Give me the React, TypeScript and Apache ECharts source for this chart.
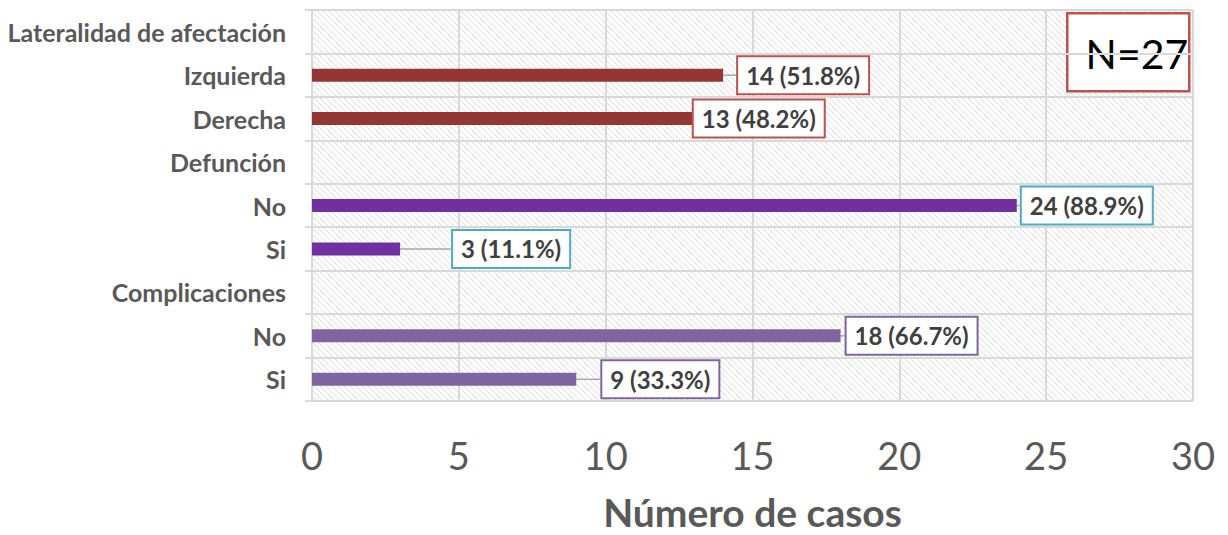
import React, { useEffect, useRef } from "react";
import * as echarts from "echarts";

const categories = [
  "Si",
  "No",
  "Complicaciones",
  "Si",
  "No",
  "Defunción",
  "Derecha",
  "Izquierda",
  "Lateralidad de afectación",
];
const values: (number | null)[] = [9, 18, null, 3, 24, null, 13, 14, null];
const percents: (string | null)[] = ["33.3%", "66.7%", null, "11.1%", "88.9%", null, "48.2%", "51.8%", null];
const barColors = ["#8064A2", "#8064A2", "#8064A2", "#7030A0", "#7030A0", "#7030A0", "#943634", "#943634", "#943634"];
const labelBorders = ["#8064A2", "#8064A2", "#8064A2", "#4BACC6", "#4BACC6", "#4BACC6", "#C0504D", "#C0504D", "#C0504D"];
const labelShift = [26, 6, 0, 53, 5, 0, 0, 15, 0];
const xTicks = [0, 5, 10, 15, 20, 25, 30];
const nLabel = "N=27";

function makeHatch(): string {
  const s = 6;
  const c = document.createElement("canvas");
  c.width = s;
  c.height = s;
  const ctx = c.getContext("2d")!;
  ctx.fillStyle = "#ffffff";
  ctx.fillRect(0, 0, s, s);
  ctx.strokeStyle = "#dcdcdc";
  ctx.lineWidth = 1;
  ctx.beginPath();
  ctx.moveTo(0, 0);
  ctx.lineTo(s, s);
  ctx.moveTo(-s / 2, s / 2);
  ctx.lineTo(s / 2, s * 1.5);
  ctx.moveTo(s / 2, -s / 2);
  ctx.lineTo(s * 1.5, s / 2);
  ctx.stroke();
  return c.toDataURL();
}

export default function App() {
  const ref = useRef<HTMLDivElement>(null);
  useEffect(() => {
    if (!ref.current) return;
    const chart = echarts.init(ref.current, undefined, { renderer: "svg" });
    const hatch = makeHatch();
    const FONT = "Lato, 'Open Sans', sans-serif";
    chart.setOption({
      animation: false,
      grid: {
        left: 304,
        right: 35,
        top: 2,
        bottom: 134,
        show: true,
        borderWidth: 0,
        containLabel: false,
        outerBoundsMode: "none",
        backgroundColor: { image: hatch, repeat: "repeat", imageWidth: 6, imageHeight: 6 } as any,
      } as any,
      xAxis: {
        type: "value",
        min: 0,
        max: xTicks[xTicks.length - 1],
        interval: 5,
        name: "Número de casos",
        nameLocation: "middle",
        nameGap: 91,
        nameTextStyle: { fontFamily: FONT, fontSize: 39, lineHeight: 39, fontWeight: "bold", color: "#595959" },
        axisLine: { show: false },
        axisTick: { show: false },
        axisLabel: { fontFamily: FONT, fontSize: 38, color: "#595959", margin: 35 },
        splitLine: { show: true, lineStyle: { color: "#d9d9d9", width: 2 } },
      },
      yAxis: {
        type: "category",
        data: categories,
        axisLine: { show: true, lineStyle: { color: "#d9d9d9", width: 2 } },
        axisTick: { show: true, length: 7, lineStyle: { color: "#d9d9d9", width: 2 } },
        axisLabel: { fontFamily: FONT, fontSize: 25, fontWeight: "bold", color: "#595959", margin: 26 },
        splitLine: { show: true, lineStyle: { color: "#d9d9d9", width: 2 } },
      },
      series: [
        {
          type: "bar",
          barWidth: 13,
          data: values.map((v, i) => ({
            value: v,
            itemStyle: { color: barColors[i] },
            label: {
              show: v != null,
              borderColor: labelBorders[i],
            },
          })),
          label: {
            show: true,
            position: "right",
            distance: 0,
            formatter: (p: any) => `${p.value} (${percents[p.dataIndex]})`,
            fontFamily: FONT,
            fontSize: 24,
            fontWeight: "bold",
            color: "#404040",
            backgroundColor: "#ffffff",
            borderWidth: 2,
            padding: [7, 8, 5, 8],
          },
          labelLine: { show: true, lineStyle: { color: "#a6a6a6", width: 1.5 } },
          labelLayout: (p: any) => ({ dx: labelShift[p.dataIndex] }),
        },
      ],
      graphic: [
        {
          type: "group",
          left: 1058,
          top: 4,
          children: [
            {
              type: "rect",
              shape: { x: 0, y: 0, width: 122, height: 78 },
              style: { fill: "#ffffff", stroke: "#C0504D", lineWidth: 2.5 },
            },
            {
              type: "text",
              x: 121,
              y: 40,
              style: {
                text: nLabel,
                fontFamily: "Lato, sans-serif",
                fontSize: 41,
                fill: "#000000",
                align: "right",
                verticalAlign: "middle",
              },
            },
          ],
        },
      ],
    });
    return () => chart.dispose();
  }, []);
  return <div ref={ref} style={{ width: 1220, height: 527 }} />;
}
